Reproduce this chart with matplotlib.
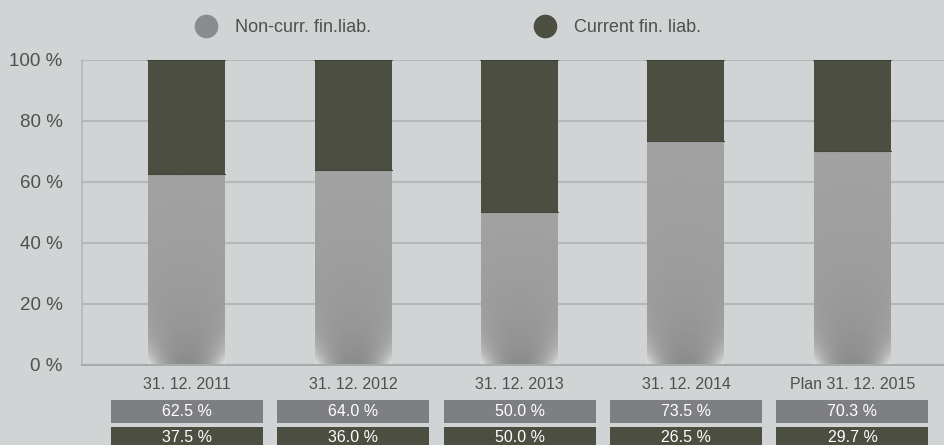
import matplotlib.pyplot as plt
import numpy as np
from matplotlib.lines import Line2D
from matplotlib.patches import Rectangle
from matplotlib.transforms import blended_transform_factory

# Share of financial liabilities per reporting date (in %)
dates = ["31. 12. 2011", "31. 12. 2012", "31. 12. 2013", "31. 12. 2014", "Plan 31. 12. 2015"]
non_current = [62.5, 64.0, 50.0, 73.5, 70.3]
current = [37.5, 36.0, 50.0, 26.5, 29.7]

BG = "#d0d4d4"
GRAY = "#7e7f83"
DARK = "#4b4e40"
TEXT = "#505050"

plt.rcParams["font.family"] = ["Liberation Sans", "DejaVu Sans"]


def shaded_bar(ax, x, width, height):
    # grey fill, slightly darker towards the base with bright lower corners
    ny, nx = 300, 80
    yy = np.linspace(0, 1, ny)[:, None]
    xx = np.linspace(-1, 1, nx)[None, :]
    y_abs = yy * height
    base = 0.605 + 0.03 * yy
    shade = -0.06 * np.exp(-y_abs / 14.0) * (1 - xx ** 2)
    glow = 0.30 * np.exp(-y_abs / 5.0) * np.abs(xx) ** 2.5
    img = np.clip(base + shade + glow, 0, 1)
    rect = Rectangle((x - width / 2, 0), width, height, facecolor="none",
                     edgecolor="none")
    ax.add_patch(rect)
    im = ax.imshow(img, cmap="gray", vmin=0, vmax=1, origin="lower",
                   extent=(x - width / 2, x + width / 2, 0, height),
                   aspect="auto", zorder=2, interpolation="bilinear")
    im.set_clip_path(rect)


def main():
    fig = plt.figure(figsize=(9.44, 4.45), dpi=100, facecolor=BG)
    ax = fig.add_axes([0.0869, 0.1798, 0.9131, 0.6854], facecolor=BG)

    x = np.arange(len(dates))
    width = 0.4625

    for xi, nc, cu in zip(x, non_current, current):
        shaded_bar(ax, xi, width, nc)
        ax.bar(xi, cu, width, bottom=nc, color=DARK, zorder=2)
        ax.plot([xi - width / 2, xi + width / 2], [nc + cu, nc + cu],
                color="#3a3d30", lw=1.2, zorder=3)
        ax.plot([xi - width / 2, xi + width / 2], [nc, nc],
                color="#44473a", lw=0.8, zorder=3)

    ax.set_xlim(-0.628, 4.55)
    ax.set_ylim(0, 100)

    ax.set_yticks(range(0, 101, 20))
    ax.set_yticklabels([f"{v} %" for v in range(0, 101, 20)])
    ax.set_xticks(x)
    ax.set_xticklabels(dates)
    ax.tick_params(axis="both", length=0, labelcolor=TEXT)
    ax.tick_params(axis="x", pad=9, labelsize=11.5)
    ax.tick_params(axis="y", pad=14, labelsize=13.5)

    ax.grid(axis="y", color="#b4b8b8", lw=1.5, zorder=1)
    ax.set_axisbelow(True)
    for side in ["top", "right"]:
        ax.spines[side].set_visible(False)
    ax.spines["left"].set_color("#b4b8b8")
    ax.spines["bottom"].set_color("#a8acac")
    ax.spines["left"].set_linewidth(1.2)
    ax.spines["bottom"].set_linewidth(1.5)

    # value table under the axis
    trans = blended_transform_factory(ax.transData, ax.transAxes)
    box_w = 0.913
    rows = [(non_current, GRAY, -0.190, 0.075), (current, DARK, -0.275, 0.072)]
    for vals, color, y0, h in rows:
        for xi, v in zip(x, vals):
            ax.add_patch(Rectangle((xi - box_w / 2, y0), box_w, h, transform=trans,
                                   facecolor=color, edgecolor="none",
                                   clip_on=False))
            ax.text(xi, y0 + h / 2, f"{v:.1f} %", transform=trans, color="white",
                    ha="center", va="center", fontsize=11.5, clip_on=False)

    # legend
    items = [("Non-curr. fin.liab.", "#8a8b90", 206), ("Current fin. liab.", DARK, 545)]
    for label, color, px in items:
        fig.add_artist(Line2D([px / 944], [1 - 26 / 445], marker="o",
                              markersize=16, color=color, linestyle="none",
                              transform=fig.transFigure))
        fig.text((px + 29) / 944, 1 - 28 / 445, label, color=TEXT, fontsize=13,
                 va="center", ha="left")

    fig.savefig("out.png", dpi=100, facecolor=BG)
    plt.close(fig)


if __name__ == "__main__":
    main()
